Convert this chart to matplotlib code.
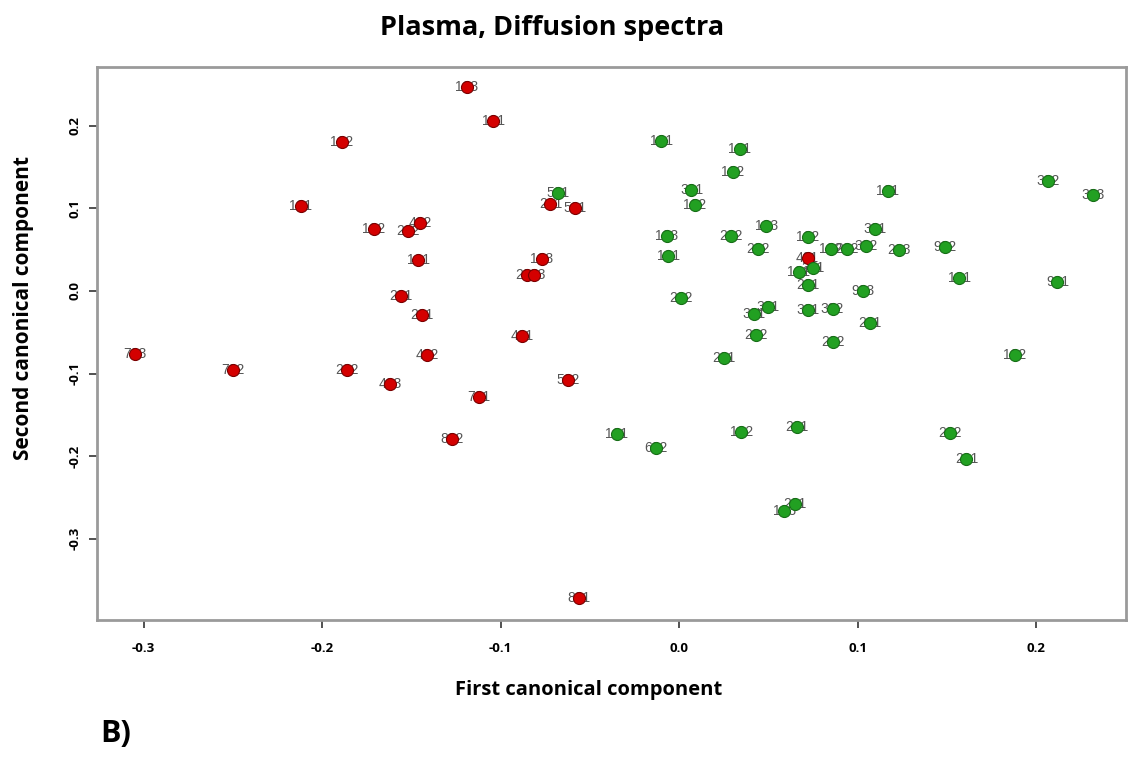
import matplotlib
matplotlib.use("Agg")
import matplotlib.pyplot as plt

# ---- data ----
red_x = [-0.119, -0.104, -0.189, -0.212, -0.171, -0.152, -0.145, -0.146, -0.156, -0.144,
         -0.141, -0.305, -0.250, -0.186, -0.162, -0.112, -0.127, -0.088, -0.062, -0.077,
         -0.085, -0.081, -0.072, -0.058, -0.056, 0.072]
red_y = [0.247, 0.206, 0.180, 0.103, 0.075, 0.073, 0.082, 0.038, -0.006, -0.029,
         -0.077, -0.076, -0.096, -0.096, -0.113, -0.128, -0.179, -0.054, -0.108, 0.039,
         0.019, 0.019, 0.105, 0.100, -0.372, 0.040]
red_lab = ["103", "101", "102", "101", "102", "202", "402", "101", "201", "201",
           "402", "703", "702", "202", "403", "701", "802", "401", "502", "103",
           "203", "203", "201", "501", "801", "401"]

green_x = [-0.010, 0.034, 0.030, -0.068, 0.007, 0.009, -0.007, -0.006, 0.001, 0.049,
           0.029, 0.044, 0.072, 0.085, 0.094, 0.105, 0.110, 0.123, 0.117, 0.207,
           0.232, 0.149, 0.157, 0.212, 0.103, 0.107, 0.188, 0.067, 0.075, 0.072,
           0.050, 0.042, 0.072, 0.086, 0.043, 0.025, 0.086, -0.035, -0.013, 0.035,
           0.066, 0.152, 0.161, 0.065, 0.059]
green_y = [0.182, 0.172, 0.144, 0.119, 0.122, 0.104, 0.067, 0.042, -0.008, 0.079,
           0.067, 0.051, 0.065, 0.051, 0.051, 0.054, 0.075, 0.050, 0.121, 0.133,
           0.116, 0.053, 0.016, 0.011, 0.000, -0.039, -0.077, 0.023, 0.028, 0.007,
           -0.019, -0.028, -0.023, -0.022, -0.053, -0.081, -0.062, -0.173, -0.190, -0.171,
           -0.165, -0.172, -0.203, -0.258, -0.266]
green_lab = ["101", "101", "102", "501", "301", "102", "103", "101", "202", "103",
             "202", "202", "102", "102", "202", "302", "301", "203", "101", "302",
             "303", "902", "101", "901", "903", "201", "102", "101", "201", "201",
             "301", "301", "301", "302", "202", "201", "202", "101", "602", "102",
             "201", "202", "201", "201", "103"]

xticks = [-0.3, -0.2, -0.1, 0.0, 0.1, 0.2]
yticks = [-0.3, -0.2, -0.1, 0.0, 0.1, 0.2]

title = "Plasma, Diffusion spectra"
xlabel = "First canonical component"
ylabel = "Second canonical component"

# ---- figure ----
fig = plt.figure(figsize=(11.28, 7.59), dpi=100)
ax = fig.add_axes([97 / 1128, 1 - 620 / 759, 1029 / 1128, (620 - 67) / 759])

xmin = (97 - 679) / 1785
xmax = (1126 - 679) / 1785
ymax = (291 - 67) / 826
ymin = (291 - 620) / 826
ax.set_xlim(xmin, xmax)
ax.set_ylim(ymin, ymax)

lab_kw = dict(ha="center", va="center", fontsize=10, color="#555555",
              family="Liberation Sans", zorder=2)
for x, y, t in zip(red_x, red_y, red_lab):
    ax.text(x, y, t, **lab_kw)
for x, y, t in zip(green_x, green_y, green_lab):
    ax.text(x, y, t, **lab_kw)

ax.scatter(red_x, red_y, s=75, c="#d40000", edgecolors="#7a0000", linewidths=0.8, zorder=3)
ax.scatter(green_x, green_y, s=75, c="#22a022", edgecolors="#176e17", linewidths=0.8, zorder=3)

for sp in ax.spines.values():
    sp.set_color("#9a9a9a")
    sp.set_linewidth(2)

ax.set_xticks(xticks)
ax.set_yticks(yticks)
ax.set_xticklabels([f"{v:.1f}" for v in xticks], fontsize=9.5, fontweight="bold", family="Open Sans")
ax.set_yticklabels([f"{v:.1f}" for v in yticks], fontsize=9.5, fontweight="bold", family="Open Sans",
                   rotation=90, va="center")
ax.tick_params(axis="both", direction="out", length=6, width=1.2, color="#333333")
ax.tick_params(axis="x", pad=10)
ax.tick_params(axis="y", pad=5)

fig.text(552 / 1128, 1 - 28 / 759, title, ha="center", va="center", fontsize=19.5,
         fontweight="bold", family="Open Sans")
fig.text(589 / 1128, 1 - 690 / 759, xlabel, ha="center", va="center", fontsize=14.5,
         fontweight="bold", family="Open Sans")
fig.text(24 / 1128, 1 - 308 / 759, ylabel, ha="center", va="center", fontsize=15,
         fontweight="bold", family="Open Sans", rotation=90)
fig.text(100 / 1128, 1 - 734 / 759, "B)", ha="left", va="center", fontsize=22,
         fontweight="bold", family="Open Sans")

fig.savefig("out.png", dpi=100)
